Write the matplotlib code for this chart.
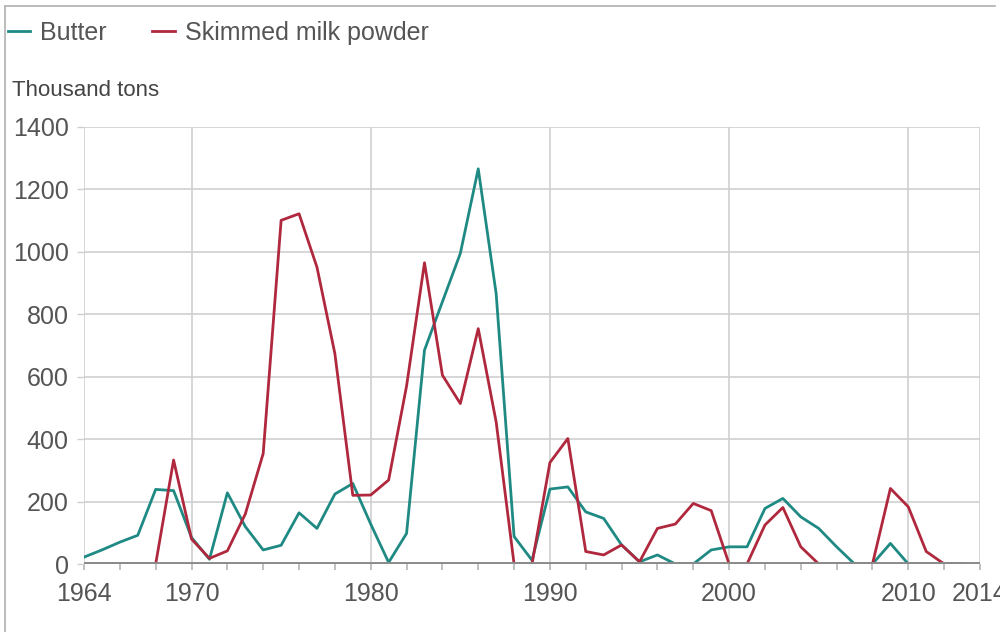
import matplotlib
matplotlib.use("Agg")
import matplotlib.pyplot as plt
from matplotlib.lines import Line2D

plt.rcParams['font.family'] = ['Liberation Sans', 'DejaVu Sans']

# EU public intervention stocks, thousand tons
years = list(range(1964, 2014))
butter = [22, 45, 70, 92, 239, 235, 85, 15, 228, 120,
          45, 60, 164, 114, 224, 258, 128, 5, 98, 685,
          840, 995, 1266, 866, 88, 12, 240, 247, 167, 146,
          61, 7, 29, 0, 0, 45, 55, 55, 178, 210,
          151, 114, 55, 0, 0, 66, 0, 0, 0, 0]
smp = [0, 0, 0, 0, 0, 333, 80, 18, 42, 160,
       354, 1101, 1122, 951, 674, 220, 221, 269, 570, 965,
       605, 514, 754, 455, 0, 0, 325, 402, 40, 29,
       61, 7, 114, 128, 194, 171, 0, 0, 125, 181,
       55, 0, 0, 0, 0, 242, 183, 40, 0, 0]

yticks = [0, 200, 400, 600, 800, 1000, 1200, 1400]
xlabels = [1964, 1970, 1980, 1990, 2000, 2010, 2014]

TEAL = '#1f8a83'
RED = '#b0283d'
GRID = '#cfcfcf'
TXT = '#555555'

fig = plt.figure(figsize=(10, 6.32), dpi=100)
ax = fig.add_axes([0.084, 1 - 564 / 632, 0.896, (564 - 127) / 632])

l1, = ax.plot(years, butter, color=TEAL, lw=2.0, zorder=3, label='Butter')
l2, = ax.plot(years, smp, color=RED, lw=2.0, zorder=3, label='Skimmed milk powder')
# baseline drawn over the zero values
ax.axhline(0, color='#8a8a8a', lw=2.8, zorder=4)

ax.set_xlim(1964, 2014)
ax.set_ylim(0, 1400)
ax.set_yticks(yticks)
ax.set_yticklabels([str(v) for v in yticks])
ax.set_xticks(list(range(1964, 2015, 2)))
ax.set_xticklabels([str(y) if y in xlabels else '' for y in range(1964, 2015, 2)])

ax.grid(axis='y', color=GRID, lw=1.2, zorder=0)
for x in xlabels:
    ax.axvline(x, color=GRID, lw=1.2, zorder=0)

for s in ax.spines.values():
    s.set_visible(False)

ax.tick_params(axis='y', length=5, width=1.0, color=GRID, pad=6, labelsize=18, labelcolor=TXT)
ax.tick_params(axis='x', length=4, width=1.2, color='#b5b5b5', pad=9, labelsize=18, labelcolor=TXT)

leg = ax.legend(handles=[l1, l2], loc='center left', bbox_to_anchor=(0.008, 1 - 33 / 632),
                bbox_transform=fig.transFigure, ncol=2, frameon=False, fontsize=18,
                handlelength=0.9, handletextpad=0.4, columnspacing=1.8,
                borderpad=0, borderaxespad=0)
for t in leg.get_texts():
    t.set_color(TXT)

fig.text(0.012, 1 - 90 / 632, 'Thousand tons', fontsize=16, color='#444444', va='center')

# thin frame around the image (top and left)
fig.add_artist(Line2D([0.005, 0.995], [1 - 6 / 632, 1 - 6 / 632], transform=fig.transFigure,
                      color='#b0b0b0', lw=1.2))
fig.add_artist(Line2D([0.005, 0.005], [0, 1 - 6 / 632], transform=fig.transFigure,
                      color='#b0b0b0', lw=1.2))

fig.savefig('out.png', dpi=100)
